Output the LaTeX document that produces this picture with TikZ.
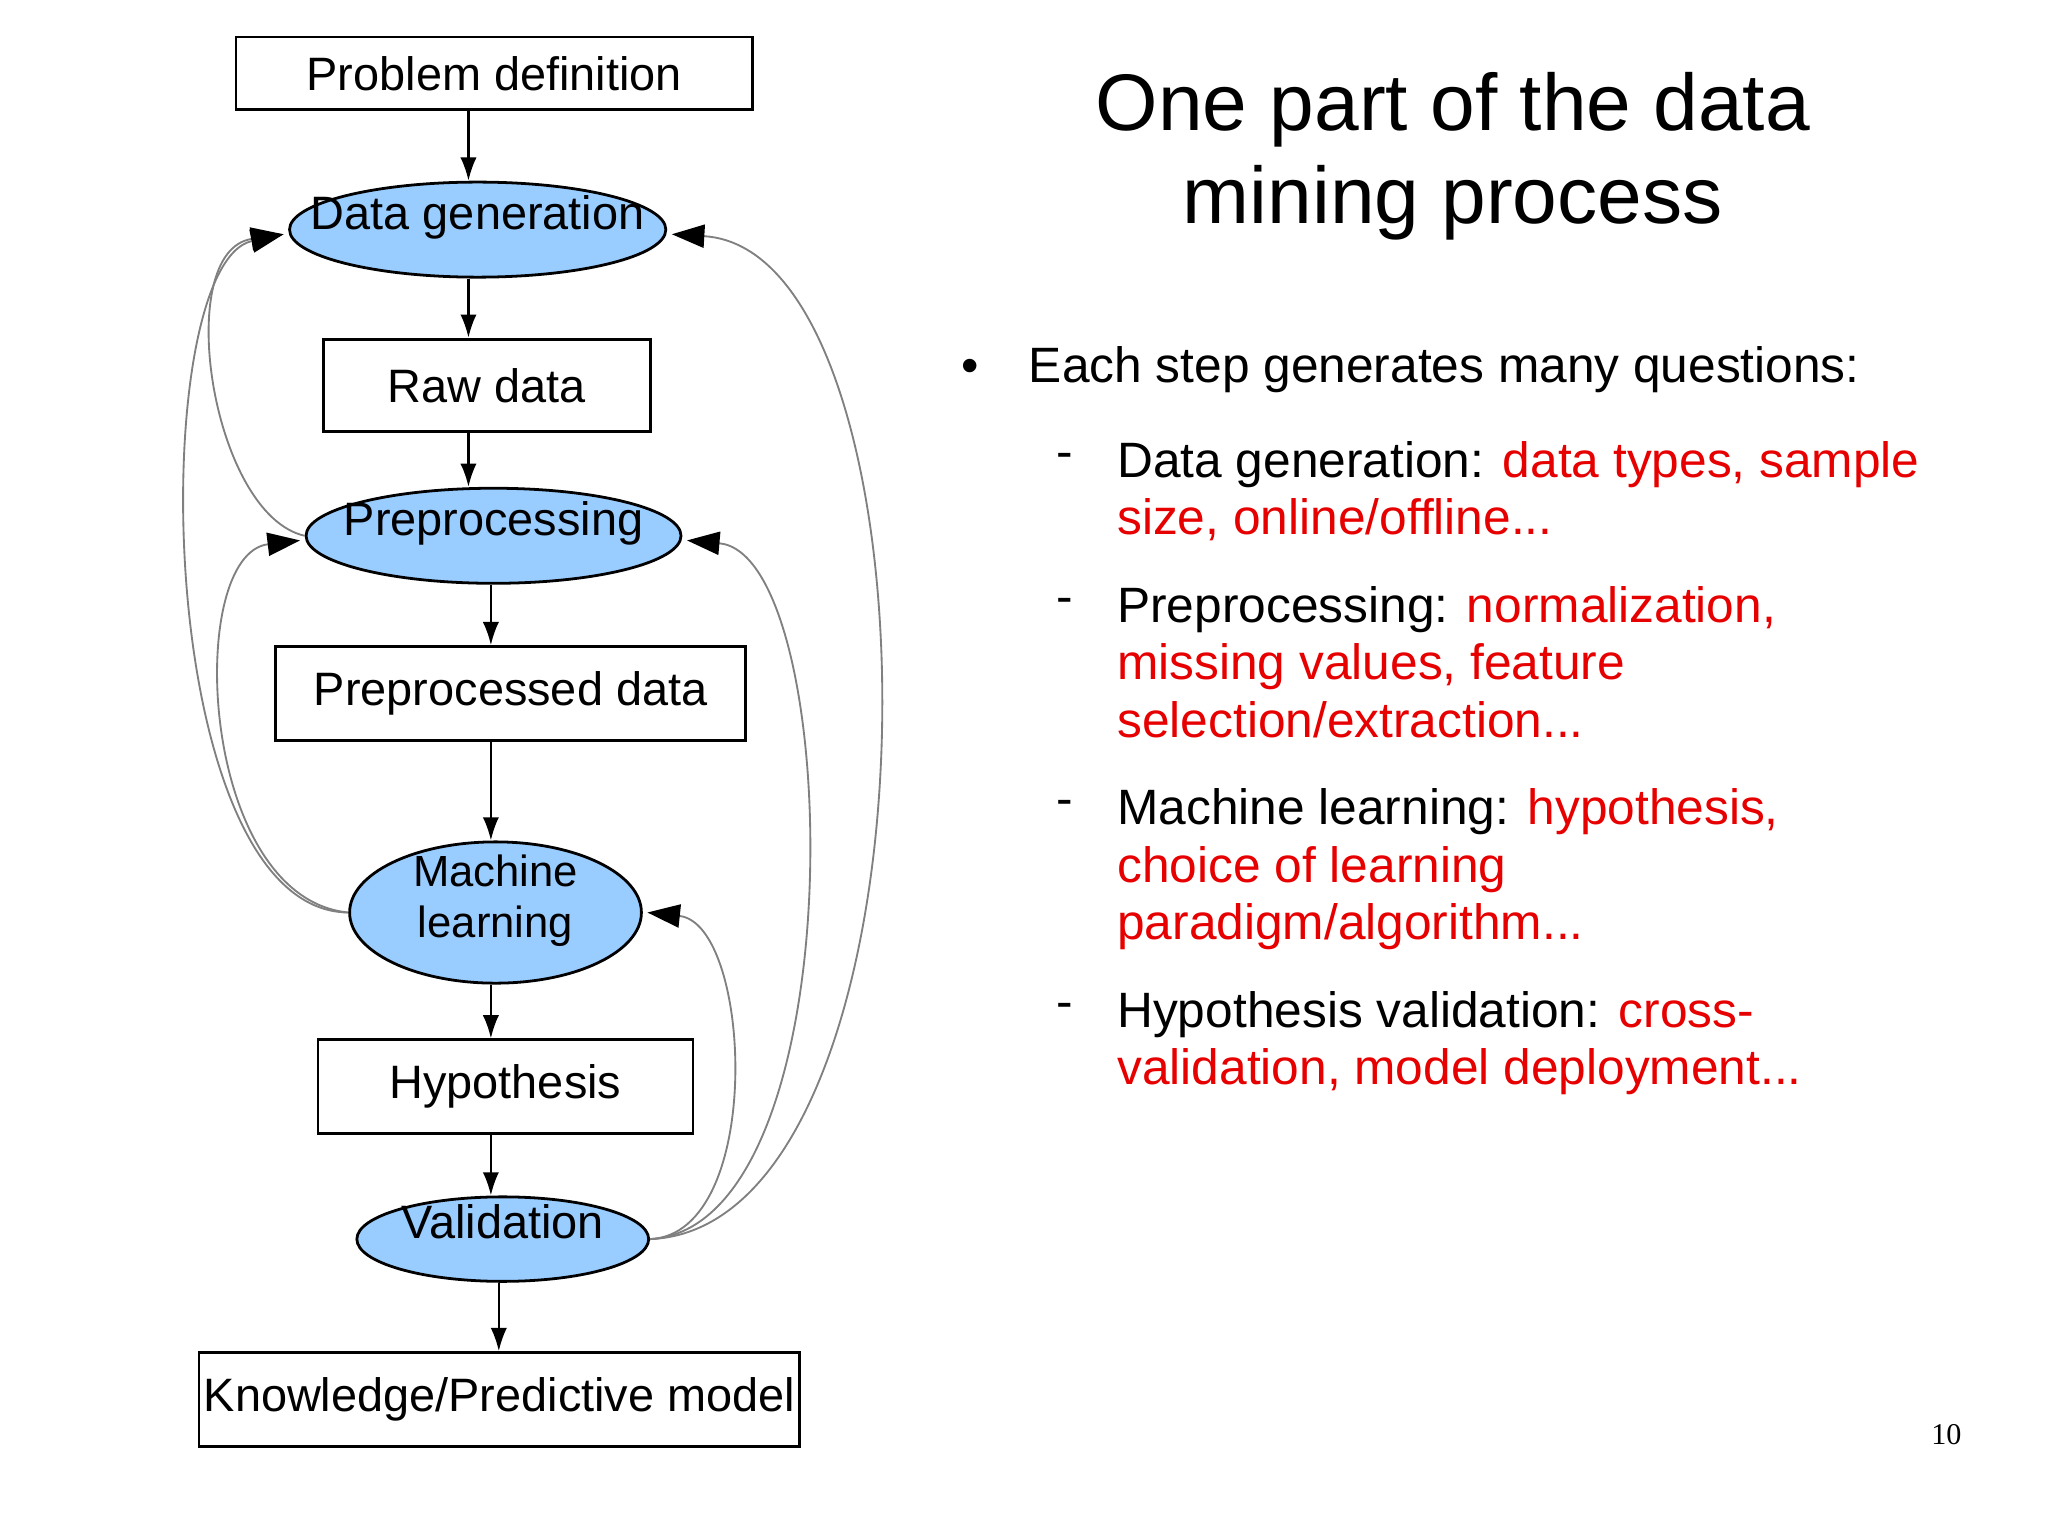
\documentclass[tikz,border=0pt]{standalone}
\usepackage{fontspec}
\setmainfont{Liberation Sans}
\newfontfamily\serifpn{Liberation Serif}
\usetikzlibrary{shapes.geometric,arrows.meta}
\definecolor{ellfill}{RGB}{153,204,255}
\definecolor{myred}{RGB}{230,0,0}
\newcommand{\zw}[1]{\makebox[0pt]{\smash{\begin{tabular}{@{}c@{}}#1\end{tabular}}}}
\begin{document}
\begin{tikzpicture}[x=0.01cm,y=-0.01cm,
  box/.style={draw,line width=0.6pt,inner sep=0pt,font=\fontsize{10.1pt}{12pt}\selectfont},
  ell/.style={draw,ellipse,fill=ellfill,line width=0.6pt,inner sep=0pt,font=\fontsize{10.1pt}{12pt}\selectfont},
  arr/.style={line width=0.5pt,-{Latex[length=5pt,width=3.5pt]}},
  fb/.style={draw=gray,line width=0.4pt,-{Triangle[length=7pt,width=5pt,color=black]}},
  txt/.style={anchor=base west,inner sep=0pt,font=\fontsize{10.7pt}{12pt}\selectfont},
  red/.style={text=myred}]
\useasboundingbox (0,0) rectangle (1552,1163);
\node[box,minimum width=3.91cm,minimum height=0.55cm] (pd) at (374.5,55.5) {Problem definition};
\node[ell,minimum width=2.85cm,minimum height=0.72cm] (dg) at (362,174) {\zw{Data generation}};
\node[box,minimum width=2.48cm,minimum height=0.70cm] (rd) at (369,292) {Raw data};
\node[ell,minimum width=2.84cm,minimum height=0.72cm] (pp) at (374,406) {\zw{Preprocessing}};
\node[box,minimum width=3.56cm,minimum height=0.71cm] (ppd) at (387,525.5) {Preprocessed data};
\node[ell,minimum width=2.21cm,minimum height=1.07cm,font=\fontsize{9.4pt}{11pt}\selectfont] (ml) at (375.5,691.5) {\zw{Machine\\learning}};
\node[box,minimum width=2.84cm,minimum height=0.71cm] (hy) at (383,823.5) {Hypothesis};
\node[ell,minimum width=2.21cm,minimum height=0.64cm] (va) at (381,939) {\zw{Validation}};
\node[box,minimum width=4.55cm,minimum height=0.71cm] (kn) at (378.5,1060.5) {Knowledge/Predictive model};

\draw[arr] (pd.south -| 355,0) -- (dg.north -| 355,0);
\draw[arr] (dg.south -| 355,0) -- (rd.north -| 355,0);
\draw[arr] (rd.south -| 355,0) -- (pp.north -| 355,0);
\draw[arr] (pp.south -| 372,0) -- (ppd.north -| 372,0);
\draw[arr] (ppd.south -| 372,0) -- (ml.north -| 372,0);
\draw[arr] (ml.south -| 372,0) -- (hy.north -| 372,0);
\draw[arr] (hy.south -| 372,0) -- (va.north -| 372,0);
\draw[arr] (va.south -| 378,0) -- (kn.north -| 378,0);

\draw[fb] (pp.west) .. controls (160,390) and (130,190) .. ([xshift=-1pt,yshift=-1pt]dg.west);
\draw[fb] (ml.west) .. controls (115,690) and (110,200) .. ([xshift=-1pt,yshift=-1pt]dg.west);
\draw[fb] (ml.west) .. controls (150,680) and (140,420) .. ([xshift=-1pt,yshift=-1pt]pp.west);
\draw[fb] (va.east) .. controls (580,935) and (570,700) .. ([xshift=1pt]ml.east);
\draw[fb] (va.east) .. controls (650,930) and (640,420) .. ([xshift=1pt,yshift=-1pt]pp.east);
\draw[fb] (va.east) .. controls (720,930) and (720,190) .. ([xshift=1pt,yshift=-1pt]dg.east);

\node[anchor=base,inner sep=0pt,font=\fontsize{17.3pt}{20pt}\selectfont] (t1) at (1101,99) {One part of the data};
\node[anchor=base,inner sep=0pt,font=\fontsize{17.3pt}{20pt}\selectfont] (t2) at (1101,169) {mining process};

\node[txt] (b) at (728,290) {•};
\node[txt] (l0) at (779,290) {Each step generates many questions:};
\foreach \y/\n in {350/d1,460/d2,613/d3,767/d4}{\node[txt] (\n) at (800,\y+5) {-};}
\node[txt] (a1) at (846,362) {Data generation: \textcolor{myred}{data types, sample}};
\node[txt,red] (a2) at (846,405) {size, online/offline...};
\node[txt] (b1) at (846,472) {Preprocessing: \textcolor{myred}{normalization,}};
\node[txt,red] (b2) at (846,515) {missing values, feature};
\node[txt,red] (b3) at (846,559) {selection/extraction...};
\node[txt] (c1) at (846,625) {Machine learning: \textcolor{myred}{hypothesis,}};
\node[txt,red] (c2) at (846,669) {choice of learning};
\node[txt,red] (c3) at (846,712) {paradigm/algorithm...};
\node[txt] (e1) at (846,779) {Hypothesis validation: \textcolor{myred}{cross-}};
\node[txt,red] (e2) at (846,822) {validation, model deployment...};
\node[anchor=base,inner sep=0pt,font=\serifpn\fontsize{6.5pt}{8pt}\selectfont] (pn) at (1475,1095) {10};
\end{tikzpicture}
\end{document}
